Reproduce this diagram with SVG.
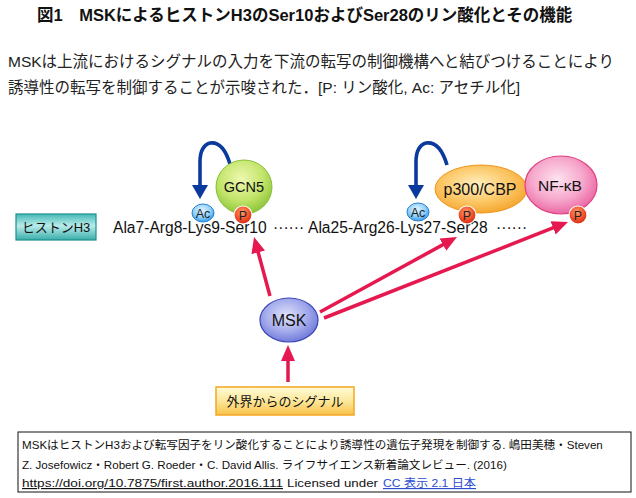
<svg xmlns="http://www.w3.org/2000/svg" width="636" height="498" viewBox="0 0 636 498">
<defs>
<style>
text{font-family:"Liberation Sans","Noto Sans CJK JP",sans-serif;fill:#111}
.title{font-size:16.5px;font-weight:bold}
.para{font-size:15.5px;fill:#222}
.seq{font-size:15.6px}
.lbl{font-size:14px;text-anchor:middle}
.small{font-size:12.5px;text-anchor:middle;fill:#222}
.cap{font-size:11.6px}
.red{stroke:#e5194f;stroke-width:3.5;fill:none;marker-end:url(#rh)}
.blue{stroke:#0a3a9c;stroke-width:3.6;fill:none}
.pc{fill:url(#gP);stroke:#fff;stroke-width:1.2}
.ac{fill:url(#gAc);stroke:#2b7fd0;stroke-width:1}
</style>
<linearGradient id="gH" x1="0" y1="0" x2="0" y2="1">
<stop offset="0" stop-color="#45b9b6"/><stop offset="0.45" stop-color="#b8ecea"/><stop offset="1" stop-color="#3aaeab"/>
</linearGradient>
<linearGradient id="gS" x1="0" y1="0" x2="0" y2="1">
<stop offset="0" stop-color="#fffbd8"/><stop offset="0.5" stop-color="#fde79a"/><stop offset="1" stop-color="#f7c24a"/>
</linearGradient>
<radialGradient id="gG" cx="0.45" cy="0.35" r="0.65">
<stop offset="0" stop-color="#eef8b0"/><stop offset="0.6" stop-color="#c4e56c"/><stop offset="1" stop-color="#8fc63a"/>
</radialGradient>
<radialGradient id="gO" cx="0.45" cy="0.4" r="0.65">
<stop offset="0" stop-color="#fff0c0"/><stop offset="0.55" stop-color="#fcc868"/><stop offset="1" stop-color="#f4a127"/>
</radialGradient>
<radialGradient id="gN" cx="0.45" cy="0.4" r="0.65">
<stop offset="0" stop-color="#fde3ef"/><stop offset="0.55" stop-color="#f6a8cc"/><stop offset="1" stop-color="#e95b9c"/>
</radialGradient>
<radialGradient id="gM" cx="0.45" cy="0.4" r="0.65">
<stop offset="0" stop-color="#dfe2fb"/><stop offset="0.55" stop-color="#a5acec"/><stop offset="1" stop-color="#6872d6"/>
</radialGradient>
<radialGradient id="gAc" cx="0.45" cy="0.35" r="0.65">
<stop offset="0" stop-color="#e2f5ff"/><stop offset="0.6" stop-color="#8fd0fb"/><stop offset="1" stop-color="#3a9ae8"/>
</radialGradient>
<radialGradient id="gP" cx="0.45" cy="0.35" r="0.65">
<stop offset="0" stop-color="#ff9a6a"/><stop offset="0.6" stop-color="#f2522c"/><stop offset="1" stop-color="#d42a12"/>
</radialGradient>
<marker id="rh" markerUnits="userSpaceOnUse" viewBox="0 0 16 16" markerWidth="16" markerHeight="16" refX="10" refY="8" orient="auto">
<path d="M0,1 L16,8 L0,15 z" fill="#e5194f"/>
</marker>
</defs>
<rect width="636" height="498" fill="#fff"/>

<text class="title" x="37" y="21">図1　MSKによるヒストンH3のSer10およびSer28のリン酸化とその機能</text>
<text class="para" x="8" y="67">MSKは上流におけるシグナルの入力を下流の転写の制御機構へと結びつけることにより</text>
<text class="para" x="8" y="93">誘導性の転写を制御することが示唆された．[P: リン酸化, Ac: アセチル化]</text>

<g id="connectors">
<path class="blue" d="M230,164 Q223,141 210,143 Q200,146 200,162 L200,187"/>
<path d="M192,185 L208,185 L200,199 z" fill="#0a3a9c"/>
<path class="blue" d="M447,165 Q440,141 426,143 Q416,146 416,162 L416,187"/>
<path d="M408,185 L424,185 L416,199 z" fill="#0a3a9c"/>
<line class="red" x1="270" y1="296" x2="255.6" y2="242.8"/>
<line class="red" x1="320" y1="312" x2="451.7" y2="239.9"/>
<line class="red" x1="324" y1="318" x2="562.4" y2="224.2"/>
<line class="red" x1="288" y1="382" x2="288" y2="351"/>
</g>

<g id="histoneH3">
<rect x="16" y="214" width="80" height="26" fill="url(#gH)" stroke="#1f8f8c" stroke-width="1.2"/>
<text x="56" y="232" style="font-size:13px;text-anchor:middle">ヒストンH3</text>
</g>

<g id="sequence">
<text class="seq" x="113" y="233">Ala7-Arg8-Lys9-Ser10</text>
<text class="seq" x="273" y="233">······</text>
<text class="seq" x="308" y="233">Ala25-Arg26-Lys27-Ser28</text>
<text class="seq" x="496" y="233">······</text>
</g>

<g id="GCN5">
<ellipse cx="244" cy="187" rx="28" ry="27" fill="url(#gG)" stroke="#86bf3a" stroke-width="1"/>
<text class="lbl" x="244" y="192" style="font-size:14.5px">GCN5</text>
</g>

<g id="p300CBP">
<ellipse cx="481" cy="189" rx="46" ry="24" fill="url(#gO)" stroke="#f0961c" stroke-width="1"/>
<text class="lbl" x="480" y="195" style="font-size:16px">p300/CBP</text>
</g>

<g id="NFkB">
<ellipse cx="561" cy="185" rx="36" ry="29" fill="url(#gN)" stroke="#e0407f" stroke-width="1.2"/>
<text class="lbl" x="560" y="191" style="font-size:15.5px">NF-κB</text>
</g>

<g id="Ac1">
<ellipse class="ac" cx="203" cy="213" rx="11" ry="9"/>
<text class="small" x="203" y="217.5">Ac</text>
</g>
<g id="P1">
<circle class="pc" cx="243" cy="215" r="9"/>
<text class="small" x="243" y="219.5">P</text>
</g>
<g id="Ac2">
<ellipse class="ac" cx="418" cy="212" rx="11" ry="9"/>
<text class="small" x="418" y="216.5">Ac</text>
</g>
<g id="P2">
<circle class="pc" cx="467" cy="215" r="9"/>
<text class="small" x="467" y="219.5">P</text>
</g>
<g id="P3">
<circle class="pc" cx="578" cy="215" r="9"/>
<text class="small" x="578" y="219.5">P</text>
</g>

<g id="MSK">
<ellipse cx="289" cy="320" rx="29" ry="22" fill="url(#gM)" stroke="#3b46b5" stroke-width="1.2"/>
<text class="lbl" x="289" y="326" style="font-size:16px">MSK</text>
</g>

<g id="signal">
<rect x="216" y="387" width="138" height="28" fill="url(#gS)" stroke="#f5a623" stroke-width="1.5"/>
<text x="285" y="406" style="font-size:13px;text-anchor:middle">外界からのシグナル</text>
</g>

<g id="caption">
<rect x="18" y="432" width="613" height="60" fill="#fff" stroke="#111" stroke-width="1"/>
<text class="cap" x="22" y="449">MSKはヒストンH3および転写因子をリン酸化することにより誘導性の遺伝子発現を制御する. 嶋田美穂・Steven</text>
<text class="cap" x="22" y="469">Z. Josefowicz・Robert G. Roeder・C. David Allis. ライフサイエンス新着論文レビュー. (2016)</text>
<text class="cap" y="487"><tspan x="22" text-decoration="underline" textLength="261" lengthAdjust="spacingAndGlyphs">https://doi.org/10.7875/first.author.2016.111</tspan><tspan x="287" textLength="91" lengthAdjust="spacingAndGlyphs">Licensed under</tspan><tspan x="383" text-decoration="underline" style="fill:#2a4fd0" textLength="93" lengthAdjust="spacingAndGlyphs">CC 表示 2.1 日本</tspan></text>
</g>
</svg>
